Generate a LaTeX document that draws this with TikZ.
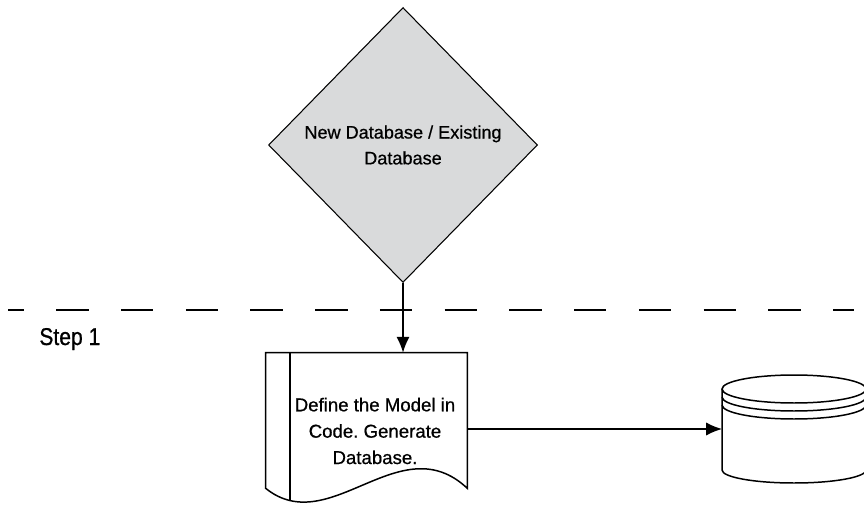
\documentclass[tikz,border=0pt]{standalone}
\usepackage{fontspec}
\setmainfont{Liberation Sans}
\newfontfamily\shapefont[FakeBold=0.7]{Liberation Sans}
\newfontfamily\stepfont[FakeStretch=0.87, FakeBold=0.7]{Liberation Sans}
\usetikzlibrary{positioning, arrows.meta, shapes.geometric}
\definecolor{decisiongray}{RGB}{217,218,219}
\frenchspacing

\begin{document}
\begin{tikzpicture}[
    x=0.02cm, y=-0.02cm,
    % Styles for the shapes
    decision/.style={diamond, draw, line width=0.6pt, fill=decisiongray, minimum width=5.38cm, minimum height=5.5cm, inner sep=0pt, align=center, font=\shapefont\fontsize{10.3}{14.7}\selectfont},
    docbox/.style={minimum width=4.02cm, minimum height=2.7cm, inner sep=0pt},
    doctext/.style={align=center, inner sep=0pt, font=\shapefont\fontsize{10.6}{15}\selectfont},
    frame/.style={line width=0.85pt, line join=miter},
    flow/.style={line width=0.85pt, -{Latex[length=9pt, width=7.5pt]}},
    stepline/.style={line width=0.85pt, dash pattern=on 18.42pt off 18.42pt, dash phase=9.35pt},
    steplabel/.style={anchor=base west, inner sep=0pt, font=\stepfont\fontsize{13.8}{16}\selectfont}
    ]

    \useasboundingbox (0,0) rectangle (864,506);

    % Decision at the top
    \node[decision] (decision) at (403,145) {New Database / Existing\\Database};

    % Step divider
    \draw[stepline] (8,310) -- (854,310);
    \node[steplabel] (step) at (39,345) {Step 1};

    % Document shape
    \node[docbox] (doc) at (366.5,420.5) {};
    \draw[frame] (doc.south west) -- (doc.north west) -- (doc.north east) -- (doc.south east)
        .. controls (400,425) and (330,540) .. cycle;
    \draw[frame] (290,353) -- (290,500);
    \node[doctext] (doclabel) at (375,431) {Define the Model in\\Code. Generate\\Database.};

    % Database cylinder
    \coordinate (db) at (722,429);
    \draw[frame] (722,389) -- (722,470) arc[start angle=180, end angle=360, x radius=1.44cm, y radius=0.26cm] -- (866,389);
    \draw[frame] (794,389) ellipse [x radius=1.44cm, y radius=0.28cm];
    \draw[frame] (722,397) arc[start angle=180, end angle=360, x radius=1.44cm, y radius=0.28cm];
    \draw[frame] (722,405) arc[start angle=180, end angle=360, x radius=1.44cm, y radius=0.28cm];

    % Connectors
    \draw[flow] (decision.south) -- (decision.south |- doc.north);
    \draw[flow] (doc.east |- db) -- (db);

\end{tikzpicture}
\end{document}
